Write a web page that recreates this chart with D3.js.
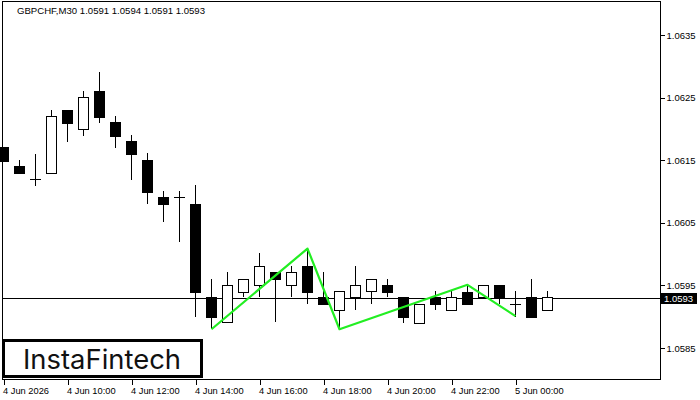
<!DOCTYPE html>
<html>
<head>
<meta charset="utf-8">
<script src="https://cdn.jsdelivr.net/npm/d3@7"></script>
<style>
html,body{margin:0;padding:0;background:#fff;}
svg{display:block;}
</style>
</head>
<body>
<svg id="chart" width="700" height="400"></svg>
<script>
// ---- data ----
const title = "GBPCHF,M30  1.0591 1.0594 1.0591 1.0593";
const opens  = [1.06171,1.06141,1.06120,1.06130,1.06230,1.06200,1.06261,1.06211,1.06181,1.06150,1.06091,1.06091,1.06081,1.05931,1.05891,1.05940,1.05950,1.05971,1.05950,1.05981,1.05931,1.05910,1.05931,1.05941,1.05951,1.05931,1.05890,1.05931,1.05910,1.05940,1.05931,1.05951,1.05920,1.05931,1.05910];
const highs  = [1.06172,1.06150,1.06161,1.06230,1.06230,1.06261,1.06291,1.06221,1.06190,1.06162,1.06101,1.06101,1.06110,1.05961,1.05972,1.05961,1.06002,1.05971,1.05981,1.06009,1.05971,1.05941,1.05981,1.05961,1.05961,1.05931,1.05920,1.05941,1.05941,1.05951,1.05951,1.05951,1.05941,1.05961,1.05941];
const lows   = [1.06149,1.06130,1.06109,1.06130,1.06180,1.06189,1.06210,1.06170,1.06118,1.06080,1.06051,1.06020,1.05900,1.05881,1.05891,1.05931,1.05931,1.05891,1.05931,1.05920,1.05920,1.05880,1.05910,1.05920,1.05931,1.05890,1.05890,1.05910,1.05910,1.05920,1.05931,1.05920,1.05900,1.05900,1.05910];
const closes = [1.06149,1.06130,1.06121,1.06221,1.06210,1.06251,1.06219,1.06189,1.06160,1.06100,1.06080,1.06091,1.05940,1.05900,1.05950,1.05961,1.05981,1.05961,1.05971,1.05940,1.05920,1.05941,1.05950,1.05961,1.05940,1.05900,1.05920,1.05920,1.05931,1.05920,1.05951,1.05931,1.05920,1.05900,1.05931];
const timeTickIdx    = [0,4,8,12,16,20,24,28,32];
const timeTickLabels = ["4 Jun 2026","4 Jun 10:00","4 Jun 12:00","4 Jun 14:00","4 Jun 16:00","4 Jun 18:00","4 Jun 20:00","4 Jun 22:00","5 Jun 00:00"];
const priceTicks = [1.0585,1.0595,1.0605,1.0615,1.0625,1.0635];
const currentPrice = 1.0593;
const patternIdx    = [13,19,21,29,32];
const patternPrices = [1.05880,1.06009,1.05880,1.05951,1.05901];

// ---- layout ----
const svg = d3.select("#chart");
const L = 2.5, R = 660.5, T = 1.5, B = 379.5;
const x = d3.scaleLinear().domain([0, 1]).range([3.5, 19.5]);
const y = d3.scaleLinear().domain([1.0585, 1.0635]).range([348, 35.3]);
const font = "'Liberation Sans', Arial, sans-serif";

const candles = opens.map((o, i) => ({i, o, h: highs[i], l: lows[i], c: closes[i]}));

// current price line (behind candles)
svg.append("line")
  .attr("x1", L).attr("x2", R)
  .attr("y1", Math.round(y(currentPrice)) + 0.5).attr("y2", Math.round(y(currentPrice)) + 0.5)
  .attr("stroke", "#000").attr("stroke-width", 1);

// candles
const g = svg.append("g").attr("shape-rendering", "crispEdges");
candles.forEach(d => {
  const cx = x(d.i);
  g.append("line")
    .attr("x1", cx).attr("x2", cx)
    .attr("y1", Math.round(y(d.h))).attr("y2", Math.round(y(d.l)))
    .attr("stroke", "#000").attr("stroke-width", 1);
  const top = Math.round(y(Math.max(d.o, d.c)));
  const bot = Math.round(y(Math.min(d.o, d.c)));
  if (bot - top < 1.5) {
    g.append("line")
      .attr("x1", cx - 5.5).attr("x2", cx + 5.5)
      .attr("y1", top + 0.5).attr("y2", top + 0.5)
      .attr("stroke", "#000").attr("stroke-width", 1);
  } else {
    g.append("rect")
      .attr("x", cx - 5).attr("y", top + 0.5)
      .attr("width", 10).attr("height", bot - top)
      .attr("fill", d.c >= d.o ? "#fff" : "#000")
      .attr("stroke", "#000").attr("stroke-width", 1);
  }
});

// pattern line
svg.append("path")
  .datum(patternIdx.map((k, j) => [x(k), y(patternPrices[j])]))
  .attr("d", d3.line())
  .attr("fill", "none")
  .attr("stroke", "#22ee22")
  .attr("stroke-width", 2.2)
  .attr("stroke-linejoin", "round");

// frame
svg.append("rect")
  .attr("x", L).attr("y", T).attr("width", R - L).attr("height", B - T)
  .attr("fill", "none").attr("stroke", "#000").attr("stroke-width", 1)
  .attr("shape-rendering", "crispEdges");

// right price axis
const yAxis = d3.axisRight(y).tickValues(priceTicks).tickFormat(d3.format(".4f")).tickSize(4).tickPadding(2);
const ya = svg.append("g").attr("transform", `translate(${R},0)`).call(yAxis);
ya.select(".domain").remove();
ya.selectAll("line").attr("stroke", "#000").attr("shape-rendering", "crispEdges");
ya.selectAll("text").attr("font-family", font).attr("font-size", "9.5px").attr("fill", "#000");

// bottom time axis
const tx = d3.scaleOrdinal().domain(timeTickIdx).range(timeTickIdx.map(k => x(k)));
const xAxis = d3.axisBottom(tx).tickValues(timeTickIdx).tickFormat((d, j) => timeTickLabels[j]).tickSize(5).tickPadding(3);
const xa = svg.append("g").attr("transform", `translate(0,${B})`).call(xAxis);
xa.select(".domain").remove();
xa.selectAll("line").attr("stroke", "#000").attr("shape-rendering", "crispEdges");
xa.selectAll("text").attr("font-family", font).attr("font-size", "9.3px").attr("fill", "#000")
  .attr("text-anchor", "start").attr("dx", "-1");

// current price label
const cy = Math.round(y(currentPrice)) + 0.5;
svg.append("rect").attr("x", 661).attr("y", cy - 5.5).attr("width", 36).attr("height", 11).attr("fill", "#000");
svg.append("text").attr("x", 664).attr("y", cy + 3.5)
  .attr("font-family", font).attr("font-size", "9.5px").attr("fill", "#fff")
  .text(d3.format(".4f")(currentPrice));

// title
svg.append("text").attr("x", 17).attr("y", 14)
  .attr("font-family", font).attr("font-size", "9.5px").attr("fill", "#000")
  .attr("textLength", 188).attr("lengthAdjust", "spacingAndGlyphs")
  .text(title);

// logo
svg.append("rect").attr("x", 3.5).attr("y", 340.5).attr("width", 198).attr("height", 36)
  .attr("fill", "#fff").attr("stroke", "#000").attr("stroke-width", 3);
svg.append("text").attr("x", 23).attr("y", 369)
  .attr("font-family", "Inter, 'Open Sans', sans-serif").attr("font-weight", 400)
  .attr("font-size", "27px").attr("fill", "#111")
  .attr("textLength", 158).attr("lengthAdjust", "spacingAndGlyphs")
  .text("InstaFintech");
</script>
</body>
</html>
